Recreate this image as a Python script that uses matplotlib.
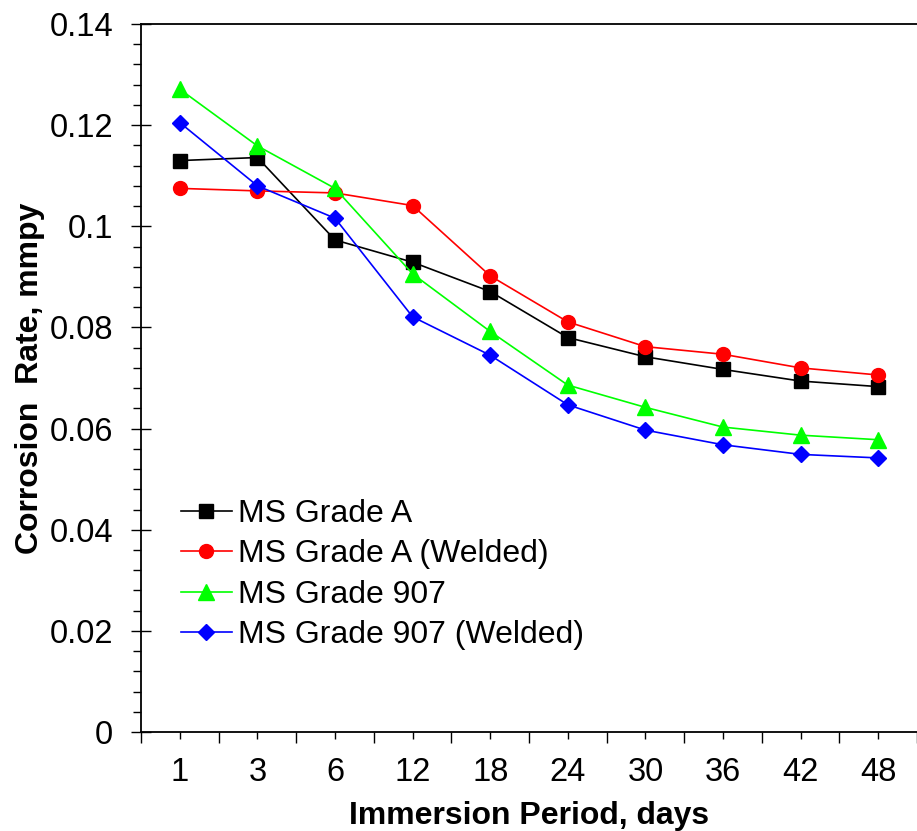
import numpy as np
import matplotlib.pyplot as plt
from matplotlib.ticker import MultipleLocator, FixedLocator

plt.rcParams['font.family'] = ['Liberation Sans', 'DejaVu Sans']

days = ['1', '3', '6', '12', '18', '24', '30', '36', '42', '48']
grade_a = [0.1130, 0.1136, 0.0973, 0.0929, 0.0871, 0.0780, 0.0742, 0.0717, 0.0694, 0.0683]
grade_a_welded = [0.1075, 0.1070, 0.1066, 0.1041, 0.0902, 0.0811, 0.0762, 0.0747, 0.0720, 0.0706]
grade_907 = [0.1271, 0.1159, 0.1075, 0.0906, 0.0792, 0.0686, 0.0642, 0.0603, 0.0587, 0.0578]
grade_907_welded = [0.1205, 0.1080, 0.1016, 0.0821, 0.0745, 0.0647, 0.0597, 0.0568, 0.0549, 0.0542]

x = np.arange(len(days))

fig = plt.figure(figsize=(9.17, 8.31), dpi=100)
ax = fig.add_axes([0.1538, 0.1191, 0.8462, 0.852])

ax.plot(x, grade_a, color='black', marker='s', markersize=10, linewidth=1.2, label='MS Grade A')
ax.plot(x, grade_a_welded, color='#ff0000', marker='o', markersize=10, linewidth=1.2, label='MS Grade A (Welded)')
ax.plot(x, grade_907, color='#00ff00', marker='^', markersize=11, linewidth=1.2, label='MS Grade 907')
ax.plot(x, grade_907_welded, color='#0000ff', marker='D', markersize=8.5, linewidth=1.2, label='MS Grade 907 (Welded)')

ax.set_xlim(-0.5, len(days) - 0.5)
ax.set_ylim(0, 0.14)

ax.set_xticks(x)
ax.set_xticklabels(days)
ax.xaxis.set_minor_locator(FixedLocator(np.arange(-0.5, len(days), 1.0)))
ax.tick_params(axis='x', which='major', direction='out', length=5, width=1, labelsize=23.5, pad=13)
ax.tick_params(axis='x', which='minor', direction='out', length=8, width=1)

ax.yaxis.set_major_locator(MultipleLocator(0.02))
ax.yaxis.set_minor_locator(MultipleLocator(0.004))
ax.set_yticks(np.arange(0, 0.1401, 0.02))
ax.set_yticklabels(['0', '0.02', '0.04', '0.06', '0.08', '0.1', '0.12', '0.14'])
ax.tick_params(axis='y', which='major', direction='inout', length=14, width=1, labelsize=23.5, pad=13)
ax.tick_params(axis='y', which='minor', direction='out', length=6, width=1)

ax.spines['right'].set_visible(False)
for s in ['left', 'bottom', 'top']:
    ax.spines[s].set_linewidth(1.3)

ax.set_xlabel('Immersion Period, days', fontsize=23, fontweight='bold', labelpad=9)
ax.set_ylabel('Corrosion  Rate, mmpy', fontsize=23, fontweight='bold', labelpad=3)

ax.legend(loc='upper left', bbox_to_anchor=(0.051, 0.3295), frameon=False, fontsize=23,
          borderpad=0, borderaxespad=0, handlelength=1.6, handletextpad=0.2, labelspacing=0.33)

plt.savefig('out.png', dpi=100)
